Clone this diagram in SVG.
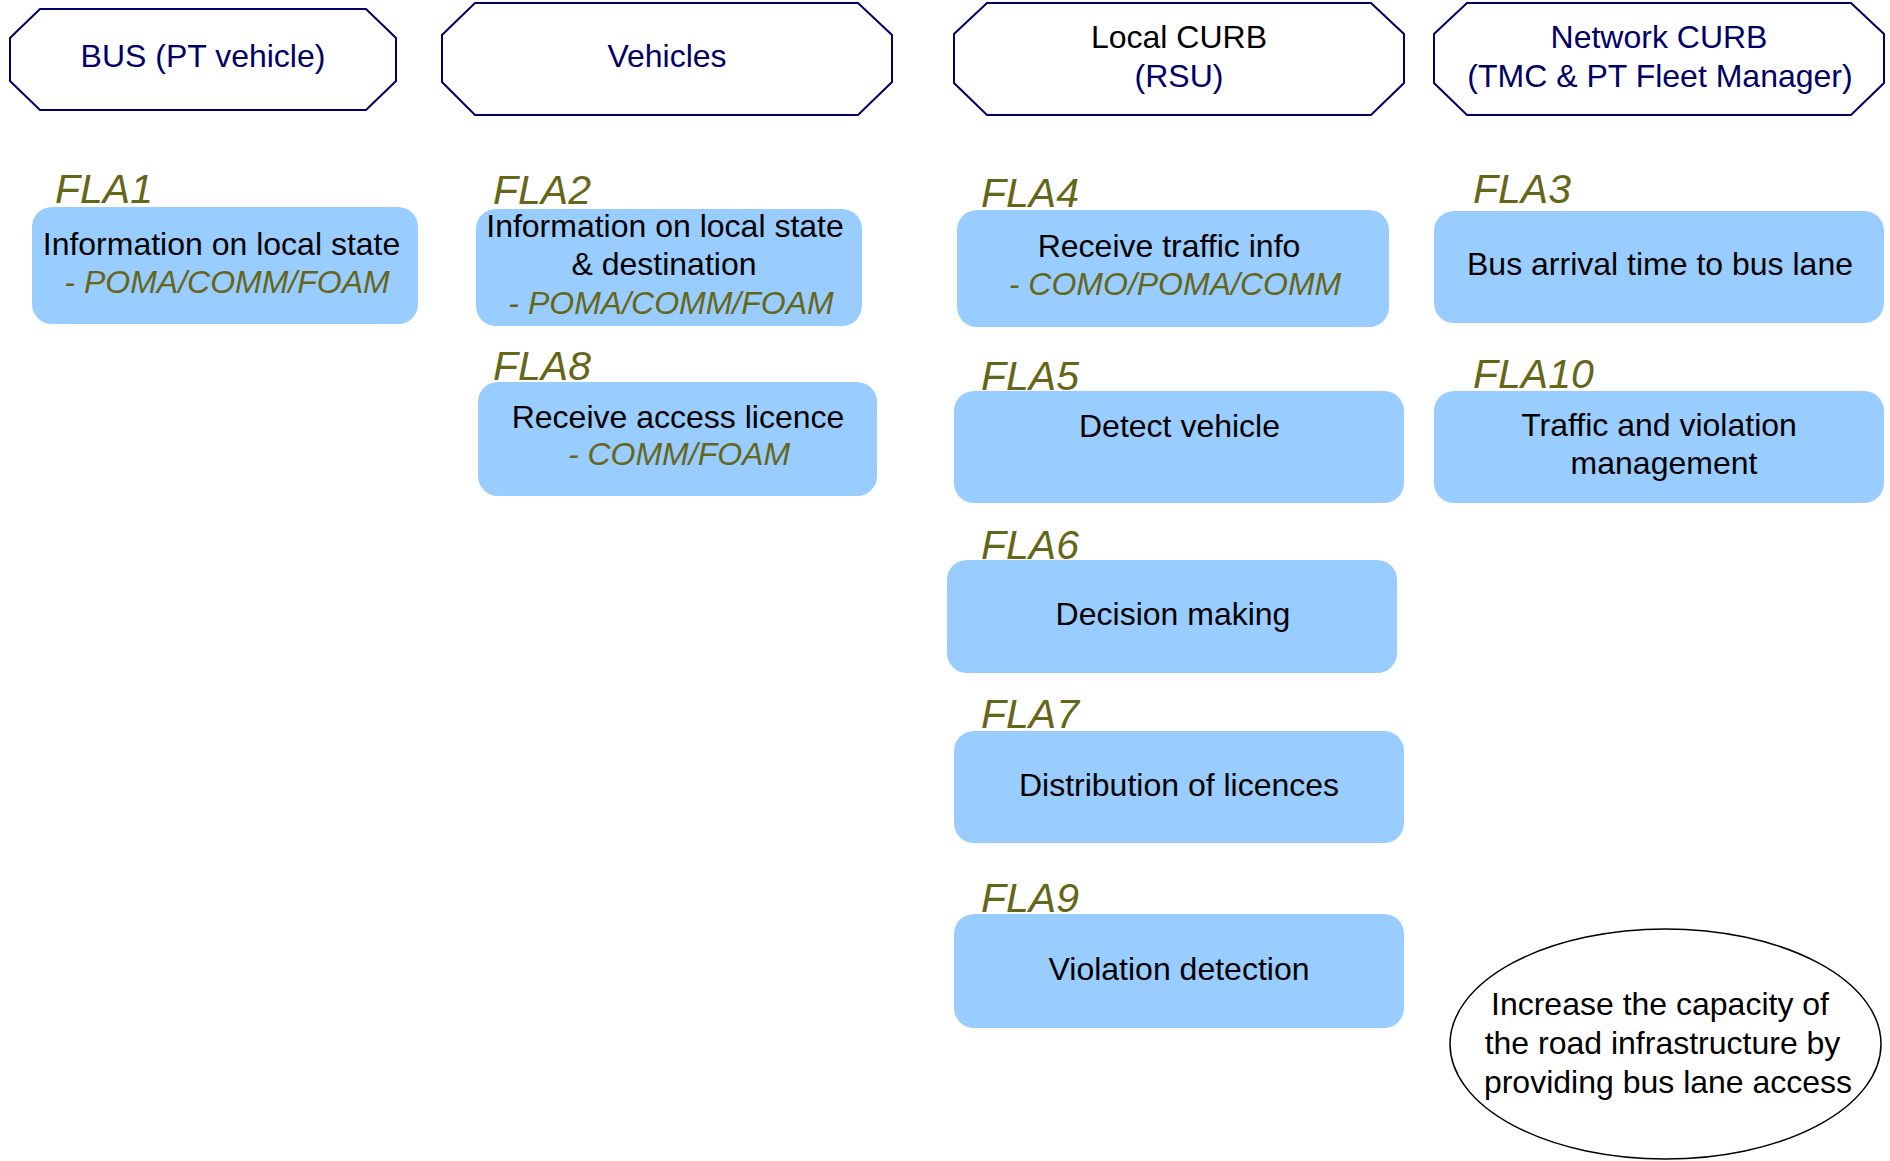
<svg xmlns="http://www.w3.org/2000/svg" width="1890" height="1161" viewBox="0 0 1890 1161">
<style>
.hdr{fill:#fff;stroke:#000066;stroke-width:2}
.box{fill:#99CCFF;stroke:none}
.t{font-family:"Liberation Sans",Arial,sans-serif;font-size:32px;text-anchor:middle;fill:#000}
.n{fill:#000066}
.k{fill:#000}
.it{font-style:italic;fill:#666619}
.fla{font-family:"Liberation Sans",Arial,sans-serif;font-size:41px;font-style:italic;fill:#666619}
.ell{fill:#fff;stroke:#000;stroke-width:1.5}
</style>
<rect width="1890" height="1161" fill="#fff"/>
<g id="connectors"/>
<g id="hdr-bus">
<polygon class="hdr" points="40,9 366,9 396,38 396,81 366,110 40,110 10,81 10,38"/>
<text class="t n" x="203" y="67">BUS (PT vehicle)</text>
</g>
<g id="hdr-vehicles">
<polygon class="hdr" points="475,3 858,3 892,35 892,82 858,115 475,115 442,82 442,35"/>
<text class="t n" x="667" y="67">Vehicles</text>
</g>
<g id="hdr-local">
<polygon class="hdr" points="987,3 1371,3 1404,34 1404,83 1371,115 987,115 954,83 954,34"/>
<text class="t k" x="1179" y="48">Local CURB</text>
<text class="t n" x="1179" y="87">(RSU)</text>
</g>
<g id="hdr-network">
<polygon class="hdr" points="1467,3 1851,3 1884,34 1884,83 1851,115 1467,115 1434,83 1434,34"/>
<text class="t n" x="1659" y="48">Network CURB</text>
<text class="t n" x="1660" y="87">(TMC &amp; PT Fleet Manager)</text>
</g>
<g id="fla1">
<text class="fla" x="55" y="203">FLA1</text>
<rect class="box" x="32" y="207" width="386" height="117" rx="20"/>
<text class="t" x="221.5" y="255">Information on local state</text>
<text class="t it" x="227" y="293">- POMA/COMM/FOAM</text>
</g>
<g id="fla2">
<text class="fla" x="493" y="204">FLA2</text>
<rect class="box" x="476" y="209" width="386" height="117" rx="20"/>
<text class="t" x="665" y="237">Information on local state</text>
<text class="t" x="664" y="275">&amp; destination</text>
<text class="t it" x="671" y="314">- POMA/COMM/FOAM</text>
</g>
<g id="fla8">
<text class="fla" x="493" y="380">FLA8</text>
<rect class="box" x="478" y="382" width="399" height="114" rx="20"/>
<text class="t" x="678" y="428">Receive access licence</text>
<text class="t it" x="679" y="465">- COMM/FOAM</text>
</g>
<g id="fla4">
<text class="fla" x="981" y="207">FLA4</text>
<rect class="box" x="957" y="210" width="432" height="117" rx="20"/>
<text class="t" x="1169" y="257">Receive traffic info</text>
<text class="t it" x="1175" y="295">- COMO/POMA/COMM</text>
</g>
<g id="fla5">
<text class="fla" x="981" y="390">FLA5</text>
<rect class="box" x="954" y="391" width="450" height="112" rx="20"/>
<text class="t" x="1179.5" y="437">Detect vehicle</text>
</g>
<g id="fla6">
<text class="fla" x="981" y="559">FLA6</text>
<rect class="box" x="947" y="560" width="450" height="113" rx="20"/>
<text class="t" x="1173" y="625">Decision making</text>
</g>
<g id="fla7">
<text class="fla" x="981" y="728">FLA7</text>
<rect class="box" x="954" y="731" width="450" height="112" rx="20"/>
<text class="t" x="1179" y="796">Distribution of licences</text>
</g>
<g id="fla9">
<text class="fla" x="981" y="912">FLA9</text>
<rect class="box" x="954" y="914" width="450" height="114" rx="20"/>
<text class="t" x="1179" y="980">Violation detection</text>
</g>
<g id="fla3">
<text class="fla" x="1473" y="203">FLA3</text>
<rect class="box" x="1434" y="211" width="450" height="112" rx="20"/>
<text class="t" x="1660" y="275">Bus arrival time to bus lane</text>
</g>
<g id="fla10">
<text class="fla" x="1473" y="388">FLA10</text>
<rect class="box" x="1434" y="391" width="450" height="112" rx="20"/>
<text class="t" x="1659" y="436">Traffic and violation</text>
<text class="t" x="1664" y="474">management</text>
</g>
<g id="goal">
<ellipse class="ell" cx="1665.5" cy="1044" rx="215.5" ry="115"/>
<text class="t" x="1660" y="1015">Increase the capacity of</text>
<text class="t" x="1662.5" y="1054">the road infrastructure by</text>
<text class="t" x="1668" y="1093">providing bus lane access</text>
</g>
</svg>
